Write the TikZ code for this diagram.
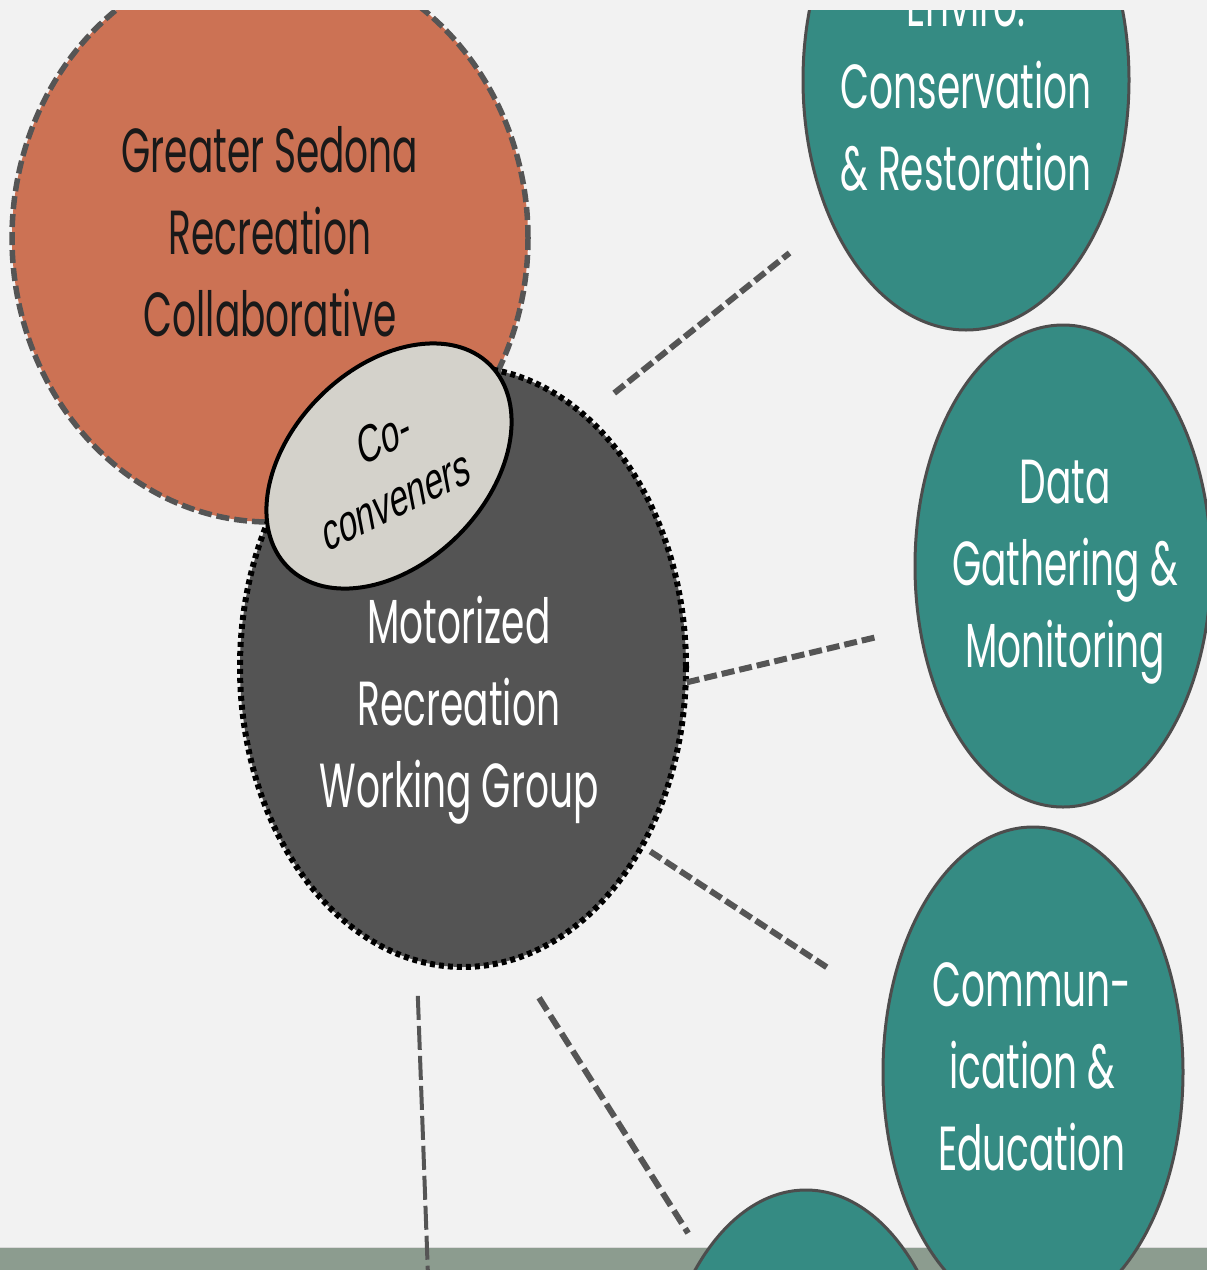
\documentclass[tikz,border=0pt]{standalone}
\usepackage{fontspec}
\usepackage{graphicx}
\usetikzlibrary{shapes.geometric}
\newfontfamily\popfont{Poppins}
\newfontfamily\arialfont{Liberation Sans}
\definecolor{bgcol}{HTML}{F2F2F2}
\definecolor{sedona}{HTML}{CC7254}
\definecolor{darkgrp}{HTML}{545454}
\definecolor{convener}{HTML}{D4D2CB}
\definecolor{tealgrp}{HTML}{358B83}
\definecolor{rimgray}{HTML}{4D4D4D}
\definecolor{linkgray}{HTML}{555555}
\definecolor{bandgreen}{HTML}{8C9C8F}
% text of the circles comes out tall and narrow
\newcommand{\tallstack}[1]{\scalebox{1}[1.66]{\begin{tabular}{@{}c@{}}#1\end{tabular}}}

\begin{document}
\begin{tikzpicture}[x=1pt,y=-1pt,
  blob/.style={ellipse,inner sep=0pt,outer sep=0pt},
  tealblob/.style 2 args={blob,fill=tealgrp,draw=rimgray,line width=3pt,minimum width=#1,minimum height=#2},
  grouptext/.style={text=white,font=\popfont\fontsize{37.5}{49.4}\selectfont,inner sep=0pt},
  link/.style={draw=linkgray,line width=6pt,dash pattern=on 13pt off 5pt}]
  \useasboundingbox (0,0) rectangle (1207,1270);
  \fill[bgcol] (0,0) rectangle (1207,1270);
  \begin{scope}
  \clip (0,10) rectangle (1207,1270);
  \fill[bandgreen] (0,1247) rectangle (1207,1270);
  \draw[line width=1pt,gray!30] (0,1247) -- (1207,1247);

  % collaborative and working group
  \node[blob,fill=sedona,draw=linkgray,line width=5.5pt,dash pattern=on 13pt off 5pt,
        minimum width=516pt,minimum height=568pt] (gsrc) at (270,238) {};
  \node[blob,fill=darkgrp,draw=black,line width=6pt,dash pattern=on 5pt off 4pt,
        minimum width=446pt,minimum height=600pt] (mrwg) at (463,667) {};
  \node[blob,fill=convener,draw=black,line width=4pt,minimum width=286pt,minimum height=196pt,
        rotate=45] (conv) at (389,466) {};

  % subgroups
  \node[tealblob={326pt}{500pt}] (enviro) at (966,80) {};
  \node[tealblob={296pt}{482pt}] (data) at (1063,566) {};
  \node[tealblob={300pt}{490pt}] (comm) at (1033,1072) {};
  \node[tealblob={300pt}{490pt}] (fifth) at (806,1435) {};

  \node[grouptext,text=black!90] (gsrctxt) at (270,238) {\tallstack{Greater Sedona\\Recreation\\Collaborative}};
  \node[grouptext] (mrwgtxt) at (459,709) {\tallstack{Motorized\\Recreation\\Working Group}};
  \node[font=\arialfont\fontsize{33}{41}\selectfont,inner sep=0pt] (convtxt) at (391,473)
       {\scalebox{1}[1.6]{\rotatebox{17}{\begin{tabular}{@{}c@{}}Co-\\conveners\end{tabular}}}};
  \node[grouptext] (envirotxt) at (966,92) {\tallstack{Enviro.\\Conservation\\\& Restoration}};
  \node[grouptext] (datatxt) at (1065,569) {\tallstack{Data\\Gathering \&\\Monitoring}};
  \node[grouptext] (commtxt) at (1032,1072) {\tallstack{Commun-\\ication \&\\Education}};

  % dashed links
  \draw[link,shorten <=37pt,shorten >=53pt] (mrwg.64.1) -- (enviro.226.7);
  \draw[link,shorten <=1pt,shorten >=43pt] (mrwg.356.1) -- (data.203.1);
  \draw[link,shorten <=10pt,shorten >=72pt] (mrwg.315.9) -- (comm.156.1);
  \draw[link,dash pattern=on 15pt off 6pt,shorten <=46pt,shorten >=28pt] (mrwg.280.7) -- (fifth.120.7);
  \coordinate (down) at (428.5,1290);
  \draw[link,line width=4pt,dash pattern=on 24pt off 6pt,shorten <=35.5pt] (mrwg.261.7) -- (down);
  \end{scope}
\end{tikzpicture}
\end{document}
